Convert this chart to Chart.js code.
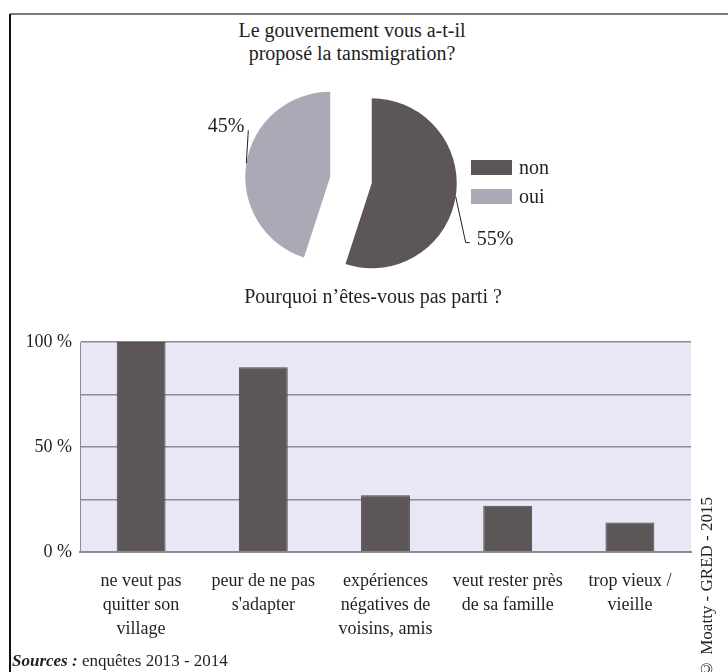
<!DOCTYPE html>
<html>
<head>
<meta charset="utf-8">
<script src="https://cdn.jsdelivr.net/npm/chart.js@4.4.1/dist/chart.umd.min.js"></script>
<style>
  body { margin: 0; background: #fff; font-family: "Liberation Serif", "Times New Roman", serif; color: #231f20; }
  #page { position: relative; width: 728px; height: 672px; overflow: hidden; }
  .frame-top { position: absolute; left: 10px; top: 13px; width: 718px; height: 2px; background: #7a7a7a; }
  .frame-left { position: absolute; left: 9px; top: 14px; width: 2px; height: 660px; background: #111; }
  .title { position: absolute; text-align: center; font-size: 20px; line-height: 23px; white-space: nowrap; }
  #pieTitle { left: 152px; top: 19px; width: 400px; }
  #barTitle { left: 173px; top: 285px; width: 400px; }
  #pieWrap { position: absolute; left: 0; top: 40px; width: 702px; height: 280px; }
  #barWrap { position: absolute; left: 0; top: 320px; width: 728px; height: 340px; }
  #legend { position: absolute; left: 471px; top: 153px; font-size: 20px; }
  #legend .item { display: flex; align-items: center; height: 29px; }
  #legend .box { width: 41px; height: 15px; margin-right: 7px; }
  #sources { position: absolute; left: 12px; top: 651px; font-size: 17px; white-space: nowrap; }
  #copyright { position: absolute; left: 697px; top: 497px; width: 20px; height: 200px; font-size: 17px;
    writing-mode: vertical-rl; text-align: end; transform: rotate(180deg); white-space: nowrap; }
</style>
</head>
<body>
<div id="page">
  <div class="frame-top"></div>
  <div class="frame-left"></div>
  <div class="title" id="pieTitle">Le gouvernement vous a-t-il<br>proposé la tansmigration?</div>
  <div id="pieWrap"><canvas id="pieChart"></canvas></div>
  <div id="legend"></div>
  <div class="title" id="barTitle">Pourquoi n’êtes-vous pas parti ?</div>
  <div id="barWrap"><canvas id="barChart"></canvas></div>
  <div id="sources"><b><i>Sources :</i></b> enquêtes 2013 - 2014</div>
  <div id="copyright">© Moatty - GRED - 2015</div>
</div>
<script>
// Pie data
const pieLabels = ["non", "oui"];
const pieValues = [55, 45];
const pieColors = ["#5c5657", "#aca8b6"];

// Bar data
const barLabels = [
  ["ne veut pas", "quitter son", "village"],
  ["peur de ne pas", "s'adapter"],
  ["expériences", "négatives de", "voisins, amis"],
  ["veut rester près", "de sa famille"],
  ["trop vieux /", "vieille"],
];
const barValues = [100, 88, 27, 22, 14];
const yTickLabels = [0, 50, 100];

const FONT = "'Liberation Serif', 'Times New Roman', serif";
const TEXT = "#231f20";
const GRID = "#8d8a97";
const PIE_SHIFT = 21; // exploded slices: plain translation along the bisector

// Legend (HTML)
const legend = document.getElementById("legend");
pieLabels.forEach((label, i) => {
  const item = document.createElement("div");
  item.className = "item";
  item.innerHTML = `<span class="box" style="background:${pieColors[i]}"></span>${label}`;
  legend.appendChild(item);
});

// Move each slice out without the wedge-shaped gap of the built-in offset
const pieExplode = {
  id: "pieExplode",
  beforeDatasetsDraw(chart) {
    chart.getDatasetMeta(0).data.forEach((arc) => {
      if (arc._exploded) return;
      const baseDraw = arc.draw;
      arc.draw = function (ctx, area) {
        const mid = (this.startAngle + this.endAngle) / 2;
        ctx.save();
        ctx.translate(Math.cos(mid) * PIE_SHIFT, Math.sin(mid) * PIE_SHIFT);
        baseDraw.call(this, ctx, area);
        ctx.restore();
      };
      arc._exploded = true;
    });
  },
};

// Percent labels with leader lines
const pieCallouts = {
  id: "pieCallouts",
  afterDatasetsDraw(chart) {
    const ctx = chart.ctx;
    const arcs = chart.getDatasetMeta(0).data;
    ctx.save();
    ctx.font = "20px " + FONT;
    ctx.fillStyle = TEXT;
    ctx.strokeStyle = TEXT;
    ctx.lineWidth = 1;
    arcs.forEach((arc, i) => {
      const p = arc.getProps(["x", "y", "startAngle", "endAngle", "outerRadius"], true);
      const mid = (p.startAngle + p.endAngle) / 2;
      const d = PIE_SHIFT + p.outerRadius;
      const ax = p.x + Math.cos(mid) * d;
      const ay = p.y + Math.sin(mid) * d;
      const txt = pieValues[i] + "%";
      ctx.beginPath();
      ctx.textBaseline = "alphabetic";
      if (Math.cos(mid) > 0) {
        ctx.moveTo(ax, ay);
        ctx.lineTo(ax + 10, ay + 46);
        ctx.lineTo(ax + 14, ay + 46);
        ctx.stroke();
        ctx.textAlign = "left";
        ctx.fillText(txt, ax + 21, ay + 48);
      } else {
        ctx.moveTo(ax, ay);
        ctx.lineTo(ax + 2, ay - 33);
        ctx.stroke();
        ctx.textAlign = "right";
        ctx.fillText(txt, ax - 2, ay - 31);
      }
    });
    ctx.restore();
  },
};

new Chart(document.getElementById("pieChart"), {
  type: "pie",
  data: {
    labels: pieLabels,
    datasets: [{
      data: pieValues,
      backgroundColor: pieColors,
      borderWidth: 0,
    }],
  },
  options: {
    responsive: true,
    maintainAspectRatio: false,
    animation: false,
    radius: 85,
    plugins: { legend: { display: false }, tooltip: { enabled: false } },
  },
  plugins: [pieExplode, pieCallouts],
});

// Lavender plot background
const plotBg = {
  id: "plotBg",
  beforeDraw(chart) {
    const { ctx, chartArea: a } = chart;
    ctx.save();
    ctx.fillStyle = "#e9e6f5";
    ctx.fillRect(a.left, a.top, a.width, a.height);
    ctx.restore();
  },
};

new Chart(document.getElementById("barChart"), {
  type: "bar",
  data: {
    labels: barLabels,
    datasets: [{
      data: barValues,
      backgroundColor: "#5c5657",
      borderColor: "#4e494a",
      borderWidth: 1,
      barPercentage: 0.4,
      categoryPercentage: 1,
    }],
  },
  options: {
    responsive: true,
    maintainAspectRatio: false,
    animation: false,
    layout: { padding: { top: 22, right: 37, left: 0, bottom: 0 } },
    plugins: { legend: { display: false }, tooltip: { enabled: false } },
    scales: {
      y: {
        min: 0,
        max: 100,
        afterFit: (scale) => { scale.width = 80; },
        ticks: {
          stepSize: 25,
          padding: 8,
          color: TEXT,
          font: { family: FONT, size: 18 },
          callback: (v) => (yTickLabels.includes(v) ? v + " %" : ""),
        },
        grid: { color: GRID, lineWidth: 1.5, drawTicks: false },
        border: { display: true, color: GRID, width: 1 },
      },
      x: {
        afterFit: (scale) => { scale.height = 108; },
        ticks: {
          padding: 9,
          color: TEXT,
          maxRotation: 0,
          autoSkip: false,
          font: { family: FONT, size: 18, lineHeight: 1.33 },
        },
        grid: { display: false },
        border: { display: true, color: GRID, width: 2 },
      },
    },
  },
  plugins: [plotBg],
});
</script>
</body>
</html>
